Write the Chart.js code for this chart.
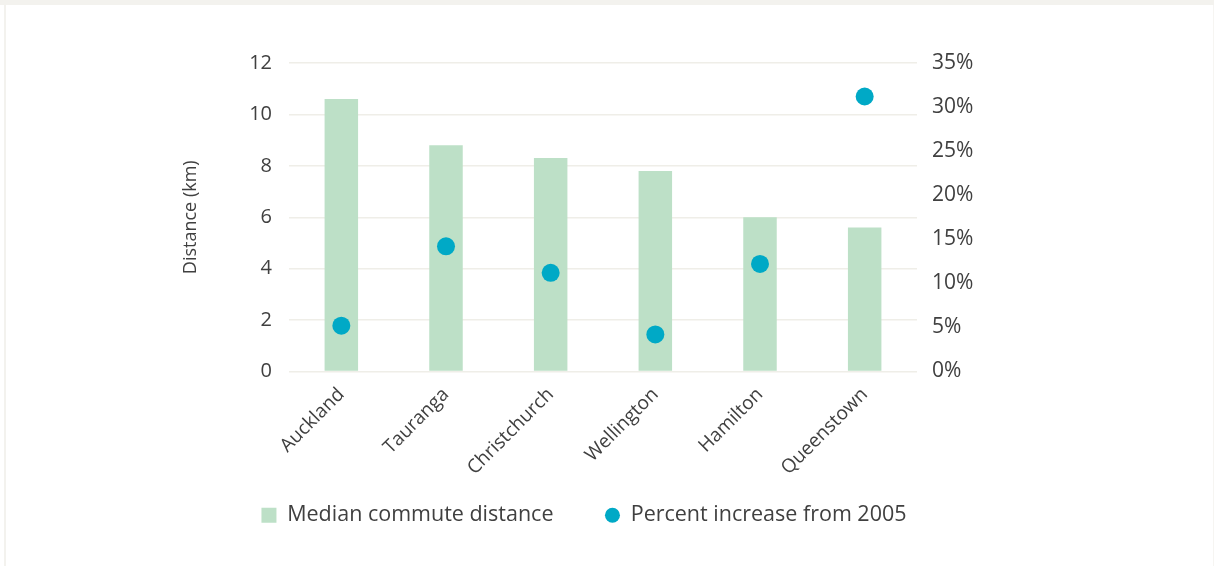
<!DOCTYPE html>
<html>
<head>
<meta charset="utf-8">
<script src="https://cdn.jsdelivr.net/npm/chart.js@4"></script>
<style>
  html, body { margin: 0; padding: 0; background: #fff; }
  #topband { position: absolute; left: 0; top: 0; width: 1214px; height: 5px; background: #f3f2ee; }
  #leftline { position: absolute; left: 4px; top: 5px; width: 2px; height: 561px; background: #f3f2ee; }
  #rightline { position: absolute; left: 1213px; top: 5px; width: 1px; height: 561px; background: #f6f5f2; }
  #wrap { position: absolute; left: 0; top: 0; width: 1214px; height: 566px; }
</style>
</head>
<body>
<div id="topband"></div>
<div id="leftline"></div>
<div id="rightline"></div>
<div id="wrap"><canvas id="commute_chart"></canvas></div>
<script>
// categories and series
const cities = ['Auckland', 'Tauranga', 'Christchurch', 'Wellington', 'Hamilton', 'Queenstown'];
const median_distance_km = [10.6, 8.8, 8.3, 7.8, 6.0, 5.6];
const pct_increase_2005 = [5.2, 14.2, 11.2, 4.2, 12.2, 31.2];

const distance_ticks = [0, 2, 4, 6, 8, 10, 12];
const pct_ticks = [0, 5, 10, 15, 20, 25, 30, 35];

const text_color = '#404040';
const font_family = "'Open Sans', 'DejaVu Sans', sans-serif";

const commute_chart_data = {
  labels: cities,
  datasets: [
    {
      type: 'line',
      label: 'Percent increase from 2005',
      data: pct_increase_2005,
      yAxisID: 'yPct',
      showLine: false,
      pointRadius: 9,
      pointHoverRadius: 9,
      pointBackgroundColor: '#00a9c6',
      pointBorderWidth: 0,
      backgroundColor: '#00a9c6',
      borderColor: '#00a9c6',
      borderWidth: 0,
      order: 0,
    },
    {
      type: 'bar',
      label: 'Median commute distance',
      data: median_distance_km,
      yAxisID: 'yDist',
      backgroundColor: '#bde0c7',
      borderWidth: 0,
      categoryPercentage: 1.0,
      barPercentage: 0.32,
      order: 1,
    },
  ]
};

const commute_chart_config = {
  data: commute_chart_data,
  options: {
    responsive: true,
    maintainAspectRatio: false,
    animation: false,
    layout: {
      padding: { left: 176, right: 222, top: 63, bottom: 30 }
    },
    plugins: {
      tooltip: { enabled: false },
      legend: {
        position: 'bottom',
        reverse: true,
        labels: {
          color: text_color,
          font: { family: font_family, size: 21.5 },
          boxWidth: 15,
          boxHeight: 15,
          padding: 30,
          generateLabels: chart => {
            const items = Chart.defaults.plugins.legend.labels.generateLabels(chart);
            items.forEach(item => {
              item.lineWidth = 0;
              if (item.text === 'Percent increase from 2005') {
                item.borderRadius = 7.5;
              } else {
                // a little more room between the two legend entries
                item.text = item.text + '\u2003';
              }
            });
            return items;
          }
        }
      }
    },
    scales: {
      x: {
        grid: { display: false },
        border: { display: false },
        ticks: {
          color: text_color,
          font: { family: font_family, size: 19 },
          maxRotation: 45,
          minRotation: 45,
          padding: 4,
        },
        afterFit: scale => { scale.height = 103; }
      },
      yDist: {
        position: 'left',
        min: 0,
        max: 12,
        afterBuildTicks: scale => { scale.ticks = distance_ticks.map(v => ({ value: v })); },
        grid: { color: '#efeee8', lineWidth: 1.5, drawTicks: false },
        border: { display: false },
        ticks: {
          color: text_color,
          font: { family: font_family, size: 20 },
          padding: 17,
        },
        title: {
          display: true,
          text: 'Distance (km)',
          color: text_color,
          font: { family: font_family, size: 18 },
          padding: { top: 4, bottom: 4 },
        },
        afterFit: scale => { scale.width = 113; }
      },
      yPct: {
        position: 'right',
        min: 0,
        max: 35,
        afterBuildTicks: scale => { scale.ticks = pct_ticks.map(v => ({ value: v })); },
        grid: { display: false, drawTicks: false },
        border: { display: false },
        ticks: {
          color: text_color,
          font: { family: font_family, size: 21 },
          padding: 15,
          callback: v => v + '%',
        },
        afterFit: scale => { scale.width = 75; }
      }
    }
  }
};

const commute_chart = new Chart(
  document.getElementById('commute_chart'),
  commute_chart_config
);
</script>
</body>
</html>
